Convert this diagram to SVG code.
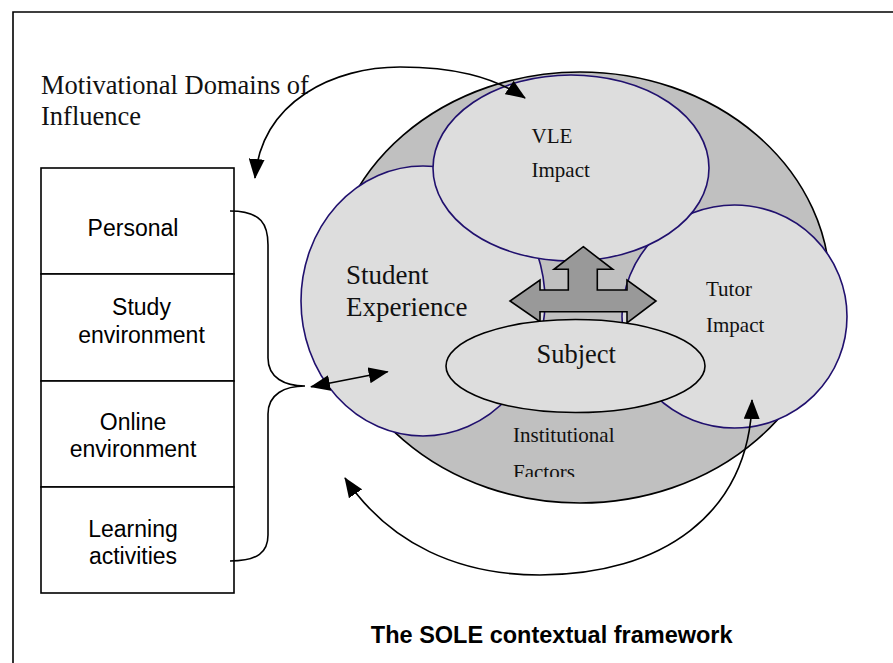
<svg xmlns="http://www.w3.org/2000/svg" width="893" height="663" viewBox="0 0 893 663">
  <defs>
    <style>
      .frame { fill: none; stroke: #000; stroke-width: 1.6; }
      .outer { fill: #c0c0c0; stroke: #000; stroke-width: 1.6; }
      .zone { fill: #dddddd; stroke: #20106e; stroke-width: 1.6; }
      .core { fill: #dddddd; stroke: #000; stroke-width: 1.6; }
      .cell { fill: #fff; stroke: #000; stroke-width: 1.6; }
      .conn { fill: none; stroke: #000; stroke-width: 1.6; }
      .serif { font-family: "Liberation Serif", "Times New Roman", serif; fill: #111; }
      .sans { font-family: "Liberation Sans", Arial, sans-serif; fill: #000; }
      .cellText { font-size: 23px; text-anchor: middle; }
    </style>
    <marker id="head" viewBox="0 0 20 16" markerWidth="20" markerHeight="16" refX="19" refY="8" orient="auto-start-reverse" markerUnits="userSpaceOnUse">
      <path d="M0,0 L20,8 L0,16 z" fill="#000"/>
    </marker>
    <clipPath id="factorsClip">
      <rect x="480" y="440" width="200" height="37"/>
    </clipPath>
  </defs>

  <!-- page frame -->
  <path class="frame" d="M13,663 V12 H893"/>

  <!-- heading -->
  <g id="heading">
    <text class="serif" x="41" y="94" font-size="26.5">Motivational Domains of</text>
    <text class="serif" x="41" y="125" font-size="26.5">Influence</text>
  </g>

  <!-- motivational domains list -->
  <g id="domains">
    <rect class="cell" x="41" y="168" width="193" height="106"/>
    <rect class="cell" x="41" y="274" width="193" height="107"/>
    <rect class="cell" x="41" y="381" width="193" height="106"/>
    <rect class="cell" x="41" y="487" width="193" height="106"/>
    <text class="sans cellText" x="133" y="236">Personal</text>
    <text class="sans cellText" x="141.5" y="315">Study</text>
    <text class="sans cellText" x="141.5" y="343">environment</text>
    <text class="sans cellText" x="133" y="430">Online</text>
    <text class="sans cellText" x="133" y="457">environment</text>
    <text class="sans cellText" x="133" y="537">Learning</text>
    <text class="sans cellText" x="133" y="564">activities</text>
  </g>

  <!-- institutional context -->
  <g id="institution">
    <ellipse class="outer" cx="580" cy="287.5" rx="250" ry="215.5"/>
    <text class="serif" x="513" y="442" font-size="21">Institutional</text>
    <text class="serif" x="513" y="479" font-size="21" clip-path="url(#factorsClip)">Factors</text>
  </g>

  <g id="student">
    <ellipse class="zone" cx="423" cy="301" rx="122" ry="135"/>
    <text class="serif" x="346" y="284" font-size="27">Student</text>
    <text class="serif" x="346" y="316" font-size="27">Experience</text>
  </g>

  <g id="tutor">
    <ellipse class="zone" cx="734.5" cy="316.5" rx="112.5" ry="111.5"/>
    <text class="serif" x="706" y="296" font-size="21">Tutor</text>
    <text class="serif" x="706" y="332" font-size="21">Impact</text>
  </g>

  <g id="vle">
    <ellipse class="zone" cx="571" cy="168" rx="138" ry="93"/>
    <text class="serif" x="531.5" y="143" font-size="21">VLE</text>
    <text class="serif" x="531.5" y="177" font-size="21">Impact</text>
  </g>

  <!-- left-right-up block arrow -->
  <g id="block-arrow">
    <path d="M583.3,246.7 L612.7,269.3 L597.3,269.3 L597.3,290 L627,290 L627,280 L656,301 L627,323 L627,311.7 L540,311.7 L540,321.7 L510,301 L540,280 L540,290 L568.3,290 L568.3,269.3 L554,269.3 Z" fill="#999999" stroke="#000" stroke-width="1.6" stroke-linejoin="miter"/>
  </g>

  <g id="subject">
    <ellipse class="core" cx="575.5" cy="366" rx="129.5" ry="46.5"/>
    <text class="serif" x="536.5" y="363" font-size="26.5">Subject</text>
  </g>

  <!-- connectors -->
  <g id="connectors">
    <path class="conn" d="M255,178 C262,100 335,67 400,67 C452,67 492,76 525,98" marker-start="url(#head)" marker-end="url(#head)"/>
    <path class="conn" d="M230,211 C262,211 268,225 268,245 V358 C268,378 285,386 305,386 C285,386 268,394 268,414 V535 C268,552 258,561 230,561"/>
    <path class="conn" d="M311,386.7 L387.7,371.7" marker-start="url(#head)" marker-end="url(#head)"/>
    <path class="conn" d="M345,478 C390,545 460,575 540,575 C660,575 750,515 752,400" marker-start="url(#head)" marker-end="url(#head)"/>
  </g>

  <g id="caption">
    <text class="sans" x="551.7" y="643" font-size="23.5" font-weight="bold" text-anchor="middle">The SOLE contextual framework</text>
  </g>
</svg>
